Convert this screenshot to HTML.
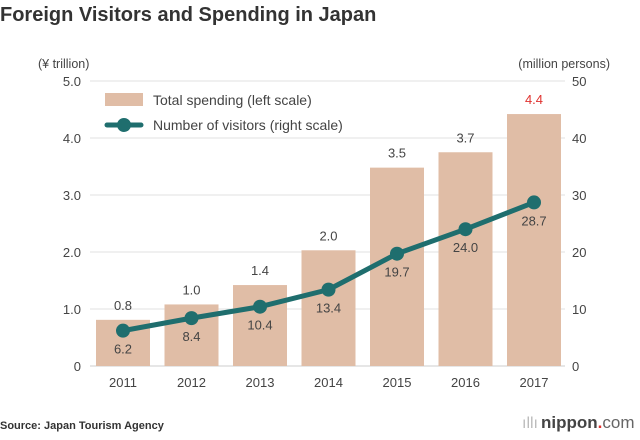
<!DOCTYPE html>
<html><head><meta charset="utf-8"><style>
body{margin:0;background:#fff;width:640px;height:435px;overflow:hidden;font-family:"Liberation Sans",Arial,sans-serif}
</style></head><body>
<svg width="640" height="435" xmlns="http://www.w3.org/2000/svg" font-family="Liberation Sans, Arial, sans-serif">
<text x="0" y="21" font-size="20" font-weight="bold" fill="#333">Foreign Visitors and Spending in Japan</text>
<text x="38" y="68" font-size="12.5" fill="#444">(¥ trillion)</text>
<text x="610" y="68" font-size="12.5" fill="#444" text-anchor="end">(million persons)</text>
<g id="grid"></g><g id="bars"></g><g id="line"></g><g id="labels"></g>
<g>
<rect x="105" y="93" width="38" height="13" fill="#e0bda6"/>
<text x="153" y="105" font-size="14" fill="#444">Total spending (left scale)</text>
<line x1="107" y1="125" x2="141" y2="125" stroke="#1f6e6e" stroke-width="5" stroke-linecap="round"/>
<circle cx="124" cy="125" r="7" fill="#1f6e6e"/>
<text x="153" y="130" font-size="14" fill="#444">Number of visitors (right scale)</text>
</g>
<text x="0" y="429" font-size="11" font-weight="bold" fill="#333">Source: Japan Tourism Agency</text>
<g>
<text x="538" y="428" font-size="16" fill="#bbb" text-anchor="end">ıllı</text>
<text x="541" y="428" font-size="17" font-weight="bold" fill="#444">nippon<tspan fill="#e0322f">.</tspan><tspan font-weight="normal" fill="#666">com</tspan></text>
</g>
</svg>
<script>
const years=["2011","2012","2013","2014","2015","2016","2017"];
const spending=[0.81,1.08,1.42,2.03,3.48,3.75,4.42];
const spendingLabels=["0.8","1.0","1.4","2.0","3.5","3.7","4.4"];
const visitors=[6.2,8.4,10.4,13.4,19.7,24.0,28.7];
const visitorLabels=["6.2","8.4","10.4","13.4","19.7","24.0","28.7"];
const leftTicks=["0","1.0","2.0","3.0","4.0","5.0"];
const rightTicks=["0","10","20","30","40","50"];
const NS="http://www.w3.org/2000/svg";
const y0=366,y5=81;
const yL=v=>y0-(y0-y5)*v/5;
const yR=v=>y0-(y0-y5)*v/50;
const xC=i=>123+i*68.5;
function mk(t,a,p){const e=document.createElementNS(NS,t);for(const k in a)e.setAttribute(k,a[k]);p.appendChild(e);return e;}
const g=document.getElementById('grid');
leftTicks.forEach((t,i)=>{const y=yL(+t);
 const l=mk('line',{x1:90,x2:565,y1:y,y2:y,stroke:i==0?'#ccc':'#e2e2e2','stroke-width':1},g);
 
 
 const a=mk('text',{x:81,y:y+5,'font-size':13,fill:'#444','text-anchor':'end'},g);a.textContent=t;
 
 
});
rightTicks.forEach(t=>{const y=yR(+t);
 const a=mk('text',{x:572,y:y+5,'font-size':13,fill:'#444'},g);a.textContent=t;
 
 
});
const b=document.getElementById('bars'),lb=document.getElementById('labels');
years.forEach((yr,i)=>{const x=xC(i);
 const r=mk('rect',{x:x-27,y:yL(spending[i]),width:54,height:y0-yL(spending[i]),fill:'#e0bda6'},b);
 
 
 const t=mk('text',{x:x,y:yL(spending[i])-10,'font-size':13,fill:i==6?'#e0322f':'#444','text-anchor':'middle'},lb);t.textContent=spendingLabels[i];
 
 
 const xt=mk('text',{x:x,y:387,'font-size':13,fill:'#444','text-anchor':'middle'},lb);xt.textContent=yr;
 
 
 const vt=mk('text',{x:x,y:yR(visitors[i])+23,'font-size':13,fill:'#444','text-anchor':'middle'},lb);vt.textContent=visitorLabels[i];
 
 
});
const ln=document.getElementById('line');
const pl=mk('polyline',{points:visitors.map((v,i)=>xC(i)+','+yR(v)).join(' '),fill:'none',stroke:'#1f6e6e','stroke-width':5,'stroke-linejoin':'round'},ln);


visitors.forEach((v,i)=>{const c=mk('circle',{cx:xC(i),cy:yR(v),r:7,fill:'#1f6e6e'},ln);
 
 
});
</script>
</body></html>
